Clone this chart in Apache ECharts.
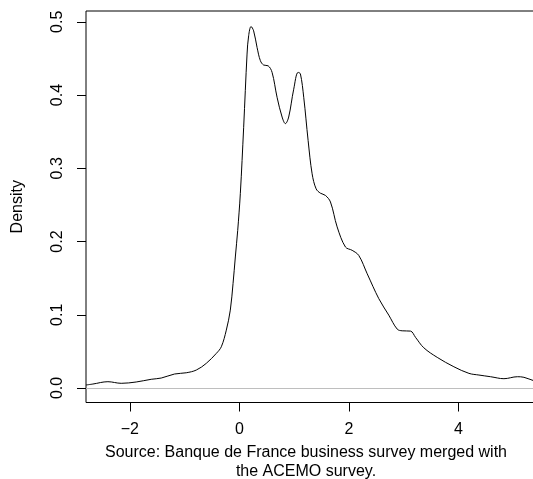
<!DOCTYPE html>
<html>
<head>
<meta charset="utf-8">
<script src="https://cdn.jsdelivr.net/npm/echarts@6/dist/echarts.min.js"></script>
<style>
html,body{margin:0;padding:0;background:#fff;}
#chart{width:533px;height:479px;}
</style>
</head>
<body>
<div id="chart"></div>
<script>
// Kernel density estimate
const densityX = [-2.80, -2.675, -2.40, -2.157, -1.883, -1.609, -1.426, -1.183, -0.969, -0.786, -0.603, -0.420, -0.329, -0.238, -0.165, -0.115, -0.073, -0.030, 0.018, 0.079, 0.141, 0.170, 0.214, 0.261, 0.324, 0.384, 0.444, 0.525, 0.598, 0.689, 0.781, 0.841, 0.901, 0.993, 1.073, 1.115, 1.176, 1.256, 1.329, 1.402, 1.481, 1.572, 1.664, 1.786, 1.938, 2.060, 2.181, 2.335, 2.547, 2.729, 2.883, 2.974, 3.126, 3.218, 3.369, 3.614, 3.918, 4.192, 4.375, 4.589, 4.832, 5.077, 5.197, 5.380, 5.500];
const densityY = [0.0041, 0.0054, 0.0086, 0.0064, 0.0082, 0.0119, 0.0136, 0.0191, 0.0208, 0.0245, 0.0337, 0.0473, 0.0563, 0.0790, 0.1063, 0.1426, 0.1789, 0.215, 0.2653, 0.356, 0.456, 0.481, 0.4936, 0.4877, 0.465, 0.447, 0.441, 0.440, 0.431, 0.397, 0.370, 0.361, 0.370, 0.408, 0.431, 0.429, 0.397, 0.338, 0.2925, 0.272, 0.266, 0.263, 0.254, 0.220, 0.1925, 0.188, 0.181, 0.156, 0.122, 0.0995, 0.0804, 0.0781, 0.0777, 0.0691, 0.0549, 0.0418, 0.0290, 0.0200, 0.0177, 0.0154, 0.0127, 0.0154, 0.0146, 0.0099, 0.0080];
const xTickValues = [-2, 0, 2, 4];
const yTickValues = [0, 0.1, 0.2, 0.3, 0.4, 0.5];
const yAxisTitle = 'Density';
const sourceNote = 'Source: Banque de France business survey merged with\nthe ACEMO survey.';

const points = densityX.map((x, i) => [x, densityY[i]]);
const FONT = '"Liberation Sans", Arial, Helvetica, sans-serif';

const chart = echarts.init(document.getElementById('chart'), null, {renderer: 'canvas'});
chart.setOption({
  animation: false,
  backgroundColor: '#ffffff',
  grid: {
    left: 86, top: 11, right: -13, bottom: 76.5,
    outerBoundsMode: 'none', containLabel: false,
    show: true, borderColor: '#000', borderWidth: 1, backgroundColor: 'transparent'
  },
  xAxis: {
    type: 'value', min: -2.8, max: 5.6,
    splitLine: {show: false},
    axisLine: {show: false, onZero: false},
    axisTick: {show: true, length: 9, lineStyle: {color: '#000'}, customValues: xTickValues},
    axisLabel: {
      show: true, margin: 19, color: '#000', fontFamily: FONT, fontSize: 16,
      customValues: xTickValues,
      formatter: v => (v < 0 ? '\u2212' + Math.abs(v) : String(v))
    }
  },
  yAxis: {
    type: 'value', min: -0.0198, max: 0.5148,
    splitLine: {show: false},
    axisLine: {show: false, onZero: false},
    axisTick: {show: true, length: 9, lineStyle: {color: '#000'}, customValues: yTickValues},
    axisLabel: {
      show: true, margin: 20, rotate: 90, color: '#000', fontFamily: FONT, fontSize: 16,
      customValues: yTickValues,
      formatter: v => v.toFixed(1)
    },
    name: yAxisTitle, nameLocation: 'middle', nameGap: 60, nameRotate: 90,
    nameTextStyle: {color: '#000', fontFamily: FONT, fontSize: 16}
  },
  graphic: [{
    type: 'text', x: 306, y: 443,
    style: {
      text: sourceNote, fill: '#000', font: '16px ' + FONT,
      textAlign: 'center', lineHeight: 19
    }
  }],
  series: [{
    type: 'line', data: points, showSymbol: false, smooth: 0.35,
    lineStyle: {color: '#000', width: 1},
    clip: true,
    markLine: {
      silent: true, symbol: 'none', label: {show: false},
      lineStyle: {color: '#bebebe', width: 1, type: 'solid'},
      data: [{yAxis: 0}]
    }
  }]
});
</script>
</body>
</html>
